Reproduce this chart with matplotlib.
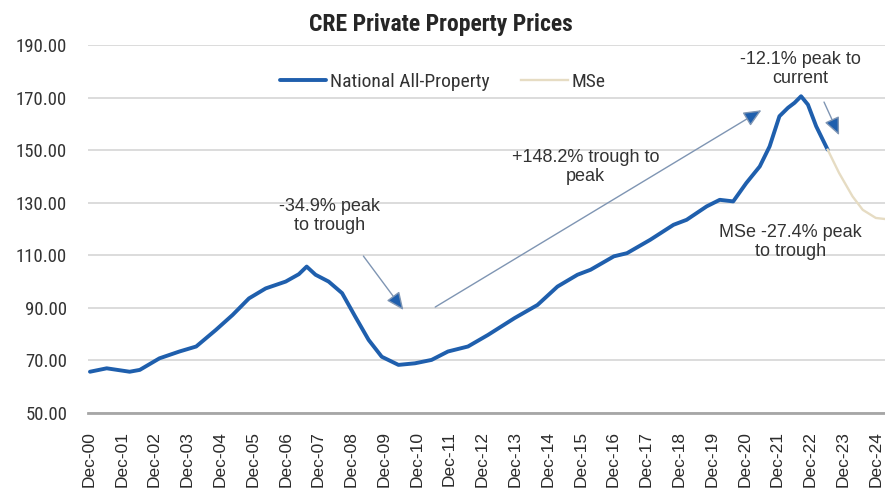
import matplotlib
matplotlib.use("Agg")
import matplotlib.pyplot as plt
from matplotlib import font_manager

# years after Dec-2000
nat_t = [0.03, 0.54, 1.24, 1.55, 2.15, 2.76, 3.27, 3.87, 4.38, 4.88, 5.39, 6.00,
         6.40, 6.64, 6.91, 7.31, 7.72, 8.12, 8.53, 8.93, 9.44, 9.94, 10.45, 10.95, 11.56,
         12.17, 12.98, 13.68, 14.29, 14.90, 15.30, 16.01, 16.41, 17.12, 17.83, 18.23,
         18.84, 19.24, 19.65, 20.05, 20.46, 20.76, 21.06, 21.32, 21.52, 21.72, 21.93,
         22.18, 22.53]
nat_v = [65.7, 67.0, 65.7, 66.4, 70.8, 73.4, 75.3, 81.6, 87.3, 93.6, 97.4, 100.0,
         102.8, 105.7, 102.6, 100.0, 95.6, 86.7, 77.8, 71.4, 68.3, 68.9, 70.2, 73.4, 75.3,
         79.7, 86.1, 91.1, 98.1, 102.6, 104.5, 109.6, 110.8, 115.9, 121.6, 123.5,
         128.6, 131.1, 130.5, 137.5, 143.8, 151.4, 162.9, 166.1, 168.0, 170.5, 167.3,
         159.1, 150.2]

mse_t = [22.53, 22.88, 23.29, 23.60, 24.00, 24.28]
mse_v = [150.2, 141.3, 132.4, 127.3, 124.2, 123.8]

tick_labels = ["Dec-%02d" % y for y in range(0, 25)]
y_ticks = [50, 70, 90, 110, 130, 150, 170, 190]

blue = "#1f5fad"
beige = "#e6dcc3"

installed = {f.name for f in font_manager.fontManager.ttflist}
narrow = [f for f in ["Roboto Condensed", "Liberation Sans Narrow", "Roboto"] if f in installed]
narrow.append("DejaVu Sans")
regular = ["Liberation Sans", "DejaVu Sans"]
condensed = narrow[0] in ("Roboto Condensed", "Liberation Sans Narrow")
k = 1.0 if condensed else 0.88

fig = plt.figure(figsize=(8.85, 4.95), dpi=100)
ax = fig.add_axes([88 / 885, 82 / 495, 797 / 885, 368 / 495])

ax.plot(nat_t, nat_v, color=blue, lw=2.8, label="National All-Property",
        solid_capstyle="round", solid_joinstyle="round")
ax.plot(mse_t, mse_v, color=beige, lw=1.7, label="MSe", solid_joinstyle="round")

ax.set_xlim(-0.03, 24.28)
ax.set_ylim(50, 190)
ax.set_yticks(y_ticks)
ax.set_yticklabels(["%.2f" % v for v in y_ticks], family=narrow, fontsize=13.5 * k, color="#333333")
ax.set_xticks(range(len(tick_labels)))
ax.set_xticklabels(tick_labels, rotation=90, family=regular, fontsize=12.5, color="#2b2b2b")
ax.tick_params(axis="both", length=0)
ax.tick_params(axis="y", pad=15)
ax.tick_params(axis="x", pad=13)

ax.grid(axis="y", color="#d9d9d9", lw=1.3)
ax.grid(axis="x", visible=False)
ax.set_axisbelow(True)
for s in ["left", "right", "top"]:
    ax.spines[s].set_visible(False)
ax.spines["bottom"].set_color("#a6a6a6")
ax.spines["bottom"].set_linewidth(2)

fig.text(0.498, 0.951, "CRE Private Property Prices", ha="center", va="center",
         family=narrow, fontweight="bold", fontsize=17 * k, color="#262626")

leg = ax.legend(loc="center", bbox_to_anchor=(0.5, 0.834), bbox_transform=fig.transFigure,
                ncol=2, frameon=False, handlelength=2.4, handletextpad=0.2, columnspacing=1.6,
                prop={"family": narrow, "size": 14 * k})
for txt in leg.get_texts():
    txt.set_color("#333333")

arrow = dict(arrowstyle="-|>,head_length=0.9,head_width=0.4", lw=1, ec="#7f95b3",
             fc=blue, mutation_scale=12, shrinkA=0, shrinkB=0)
ann_font = dict(family=regular, fontsize=13, color="#333333", ha="center", va="center",
                linespacing=1.15)

ax.text(7.34, 124.9, "-34.9% peak\nto trough", **ann_font)
ax.annotate("", xy=(9.59, 89.2), xytext=(8.37, 109.7), arrowprops=arrow)

ax.text(15.14, 143.5, "+148.2% trough to\npeak", **ann_font)
ax.annotate("", xy=(20.51, 165.2), xytext=(10.56, 90.3), arrowprops=arrow)

ax.text(21.69, 180.8, "-12.1% peak to\ncurrent", **ann_font)
ax.annotate("", xy=(22.88, 155.7), xytext=(22.42, 168.3), arrowprops=arrow)

ax.text(21.39, 115.0, "MSe -27.4% peak\nto trough", **ann_font)

fig.savefig("out.png", dpi=100)
